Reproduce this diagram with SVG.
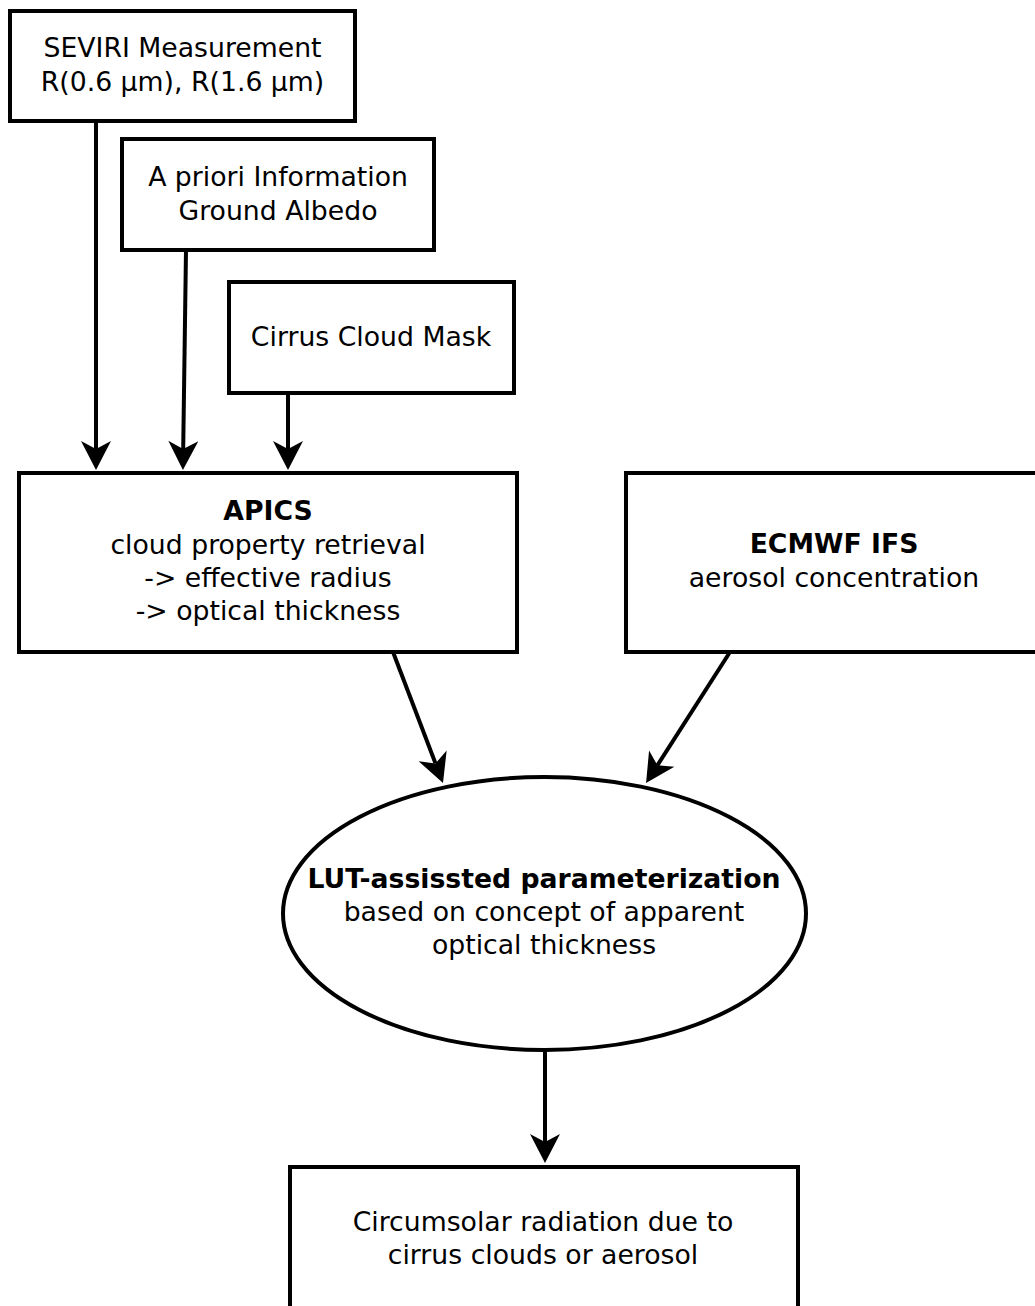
<svg xmlns="http://www.w3.org/2000/svg" width="1035" height="1306" viewBox="0 0 1035 1306">
  <style>
    .box { fill: #ffffff; stroke: #000000; stroke-width: 4; }
    .lbl { font-family: "DejaVu Sans", "Liberation Sans", sans-serif; font-size: 26.7px; fill: #000000; text-anchor: middle; }
    .b { font-weight: bold; }
    .edge { fill: none; stroke: #000000; stroke-width: 4; marker-end: url(#head); }
  </style>
  <defs>
    <marker id="head" markerUnits="userSpaceOnUse" markerWidth="32" markerHeight="32" viewBox="0 -16 30 32" refX="8" refY="0" orient="auto">
      <path d="M0,-15 L29,0 L0,15 L8,0 Z" fill="#000000"/>
    </marker>
  </defs>
  <rect width="1035" height="1306" fill="#ffffff"/>

  <g id="seviri">
    <rect class="box" x="10" y="11" width="345" height="110"/>
    <text class="lbl" x="182.5" y="57">SEVIRI Measurement</text>
    <text class="lbl" x="182.5" y="91">R(0.6 µm), R(1.6 µm)</text>
  </g>

  <g id="apriori">
    <rect class="box" x="122" y="139" width="312" height="111"/>
    <text class="lbl" x="278" y="186">A priori Information</text>
    <text class="lbl" x="278" y="220">Ground Albedo</text>
  </g>

  <g id="cirrus-mask">
    <rect class="box" x="229" y="282" width="285" height="111"/>
    <text class="lbl" x="371" y="346">Cirrus Cloud Mask</text>
  </g>

  <g id="apics">
    <rect class="box" x="19" y="473" width="498" height="179"/>
    <text class="lbl b" x="268" y="520">APICS</text>
    <text class="lbl" x="268" y="554">cloud property retrieval</text>
    <text class="lbl" x="268" y="587">-&gt; effective radius</text>
    <text class="lbl" x="268" y="620">-&gt; optical thickness</text>
  </g>

  <g id="ecmwf">
    <rect class="box" x="626" y="473" width="420" height="179"/>
    <text class="lbl b" x="834" y="553">ECMWF IFS</text>
    <text class="lbl" x="834" y="587">aerosol concentration</text>
  </g>

  <g id="lut">
    <ellipse class="box" cx="544.5" cy="913.5" rx="261.5" ry="136.5"/>
    <text class="lbl b" x="544" y="888">LUT-assissted parameterization</text>
    <text class="lbl" x="544" y="921">based on concept of apparent</text>
    <text class="lbl" x="544" y="954">optical thickness</text>
  </g>

  <g id="circumsolar">
    <rect class="box" x="290" y="1167" width="508" height="160"/>
    <text class="lbl" x="543" y="1231">Circumsolar radiation due to</text>
    <text class="lbl" x="543" y="1264">cirrus clouds or aerosol</text>
  </g>

  <g id="connectors">
    <path class="edge" d="M96,121 L96,449"/>
    <path class="edge" d="M186,250 L183.2,449"/>
    <path class="edge" d="M288,393 L288,449"/>
    <path class="edge" d="M393,652 L435.5,763.4"/>
    <path class="edge" d="M730,652 L657.4,765.3"/>
    <path class="edge" d="M545,1050 L545,1142"/>
  </g>
</svg>
